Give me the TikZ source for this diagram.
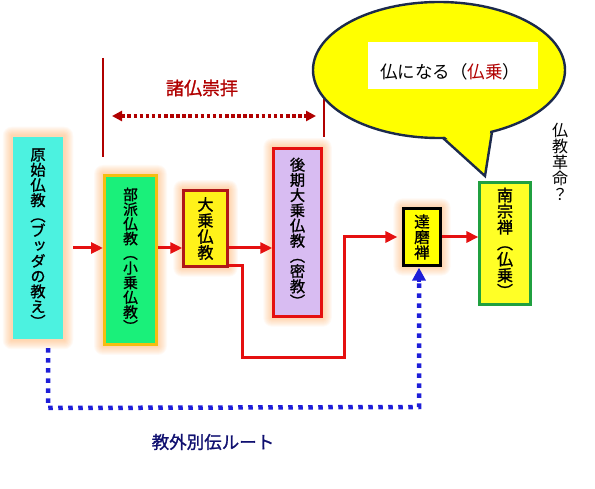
\documentclass[tikz,border=0pt]{standalone}
\usepackage{fontspec}
\newfontfamily\cjk{Noto Sans CJK JP}
\newfontfamily\cjkbold[FakeBold=1.2]{Noto Sans CJK JP}
\newfontfamily\cjkv[RawFeature=+vert, FakeBold=1.2]{Noto Sans CJK JP}
\newfontfamily\cjkvr[RawFeature=+vert]{Noto Sans CJK JP}
\usetikzlibrary{arrows.meta,backgrounds}
\definecolor{cyanbox}{HTML}{4CF2E0}
\definecolor{greenbox}{HTML}{1AF07A}
\definecolor{goldline}{HTML}{F5BE10}
\definecolor{yelbox}{HTML}{FFF21A}
\definecolor{darkredline}{HTML}{B01818}
\definecolor{redline}{HTML}{E51010}
\definecolor{lavbox}{HTML}{D8BCF2}
\definecolor{greenline}{HTML}{20A040}
\definecolor{bubyellow}{HTML}{FFFF00}
\definecolor{bubline}{HTML}{1C2A4C}
\definecolor{darkred}{HTML}{B00000}
\definecolor{bluedot}{HTML}{1E1ED8}
\definecolor{navytext}{HTML}{101070}
\definecolor{glowc}{HTML}{FF9A40}
\newcommand\glowbox[1]{%
  \foreach \r in {1,...,9}{%
    \fill[glowc, opacity=0.055, rounded corners=\r pt]
      ([shift={(-\r,-\r)}]#1.north west) rectangle ([shift={(\r,\r)}]#1.south east);}}
\begin{document}
\begin{tikzpicture}[x=1pt,y=-1pt,
  box/.style={draw, line width=2.5pt, inner sep=0pt, align=center, text=black},
  vt/.style={font=\cjkv\fontsize{#1}{#1}\selectfont},
  redarrow/.style={draw=redline, line width=3pt, -{Triangle[length=12pt,width=11pt]}},
  bubstyle/.style={draw=bubline, line width=2.4pt, fill=bubyellow},
]
\useasboundingbox (0,0) rectangle (595,489);

% boxes
\node[box, draw=none, fill=cyanbox, minimum width=50, minimum height=202, vt=15.2] (b1) at (38,238)
  {原\\始\\仏\\教\\（\\ブ\\ッ\\ダ\\の\\教\\え\\）};
\node[box, draw=goldline, line width=3pt, fill=greenbox, minimum width=52, minimum height=169, vt=14.7] (b2) at (130.5,260)
  {部\\派\\仏\\教\\（\\小\\乗\\仏\\教\\）};
\node[box, draw=darkredline, fill=yelbox, minimum width=44, minimum height=76, vt=16] (b3) at (205.5,228.5)
  {大\\乗\\仏\\教};
\node[box, draw=redline, fill=lavbox, minimum width=48, minimum height=168, vt=15.2] (b4) at (297.5,232.5)
  {後\\期\\大\\乗\\仏\\教\\（\\密\\教\\）};
\node[box, draw=black, line width=2.2pt, fill=bubyellow, minimum width=37, minimum height=57, vt=15.5] (b5) at (422,237)
  {達\\磨\\禅};
\node[box, draw=greenline, line width=2.2pt, fill=bubyellow!85!white, minimum width=51, minimum height=122] (b6) at (505,243.5) {};
\node[align=center, vt=16] (b6t) at ([yshift=1pt]b6.center) {南\\宗\\禅\\（\\仏\\乗\\）};

\begin{scope}[on background layer]
  \glowbox{b1}\glowbox{b2}\glowbox{b3}\glowbox{b4}\glowbox{b5}
\end{scope}

% red arrows
\coordinate (row) at (0,248);
\draw[redarrow, shorten <=9pt] (b1.east |- row) -- (b2.west |- row);
\draw[redarrow] (b2.east |- row) -- (b3.west |- row);
\draw[redarrow] (b3.east |- row) -- (b4.west |- row);
\draw[redarrow, shorten >=5pt] ([yshift=2pt]b3.south east) -- ++(14,0) -- ++(0,92) -- ++(102,0) |- (b5.west);
\draw[redarrow] (b5.east) -- (b6.west |- b5.east);

% blue dotted route
\coordinate (bl) at (48,408);
\coordinate (br) at (419,407);
\draw[bluedot, line width=4.5pt, dash pattern=on 4.5pt off 5.5pt] ([xshift=10pt,yshift=-8pt]b1.south) -- (bl) -- (br) -- ([xshift=-3pt,yshift=-16pt]b5.south);
\draw[bluedot, line width=4.5pt, -{Triangle[length=13pt,width=13pt]}] ([xshift=-3pt,yshift=-15pt]b5.south) -- ([xshift=-3pt,yshift=-1pt]b5.south);
\node[text=navytext, font=\cjkbold\fontsize{17.5}{20}\selectfont] (route) at (213,442) {教外別伝ルート};

% dark red markers
\coordinate (m1t) at (103,58);
\coordinate (m1b) at (103,157);
\coordinate (m2t) at (324,85);
\coordinate (m2b) at (324,137);
\draw[darkred, line width=1.6pt] (m1t) -- (m1b);
\draw[darkred, line width=1.6pt] (m2t) -- (m2b);
\coordinate (dl) at (112,116);
\coordinate (dr) at (316,116);
\draw[darkred, line width=3.5pt, dash pattern=on 3.5pt off 2.6pt, {Triangle[length=10pt,width=10pt]}-{Triangle[length=10pt,width=10pt]}] (dl) -- (dr);
\node[text=darkred, font=\cjkbold\fontsize{18}{20}\selectfont] (shobutsu) at (202,88) {諸仏崇拝};

% speech bubble
\coordinate (tl) at (443,138);
\coordinate (tt) at (485,176);
\coordinate (tr) at (492,132);
\fill[bubyellow] (tl) -- (tt) -- (tr) -- cycle;
\draw[bubstyle] (439,70) ellipse [x radius=126, y radius=68];
\fill[bubyellow] (434.5,128) -- (485,170) -- (491,124) -- cycle;
\draw[bubline, line width=2.4pt, line join=miter] (tl) -- (tt) -- (tr);
\node[fill=white, minimum width=170, minimum height=47, inner sep=0pt] (wb) at (453,65.5) {};
\node[font=\cjk\fontsize{17.5}{20}\selectfont, text=black] (bt) at (450,72) {仏になる（\textcolor{darkred}{仏乗}）};

% side text
\node[align=center, font=\cjkvr\fontsize{16}{16}\selectfont] (kakumei) at (560,162) {仏\\教\\革\\命\\？};
\end{tikzpicture}
\end{document}
